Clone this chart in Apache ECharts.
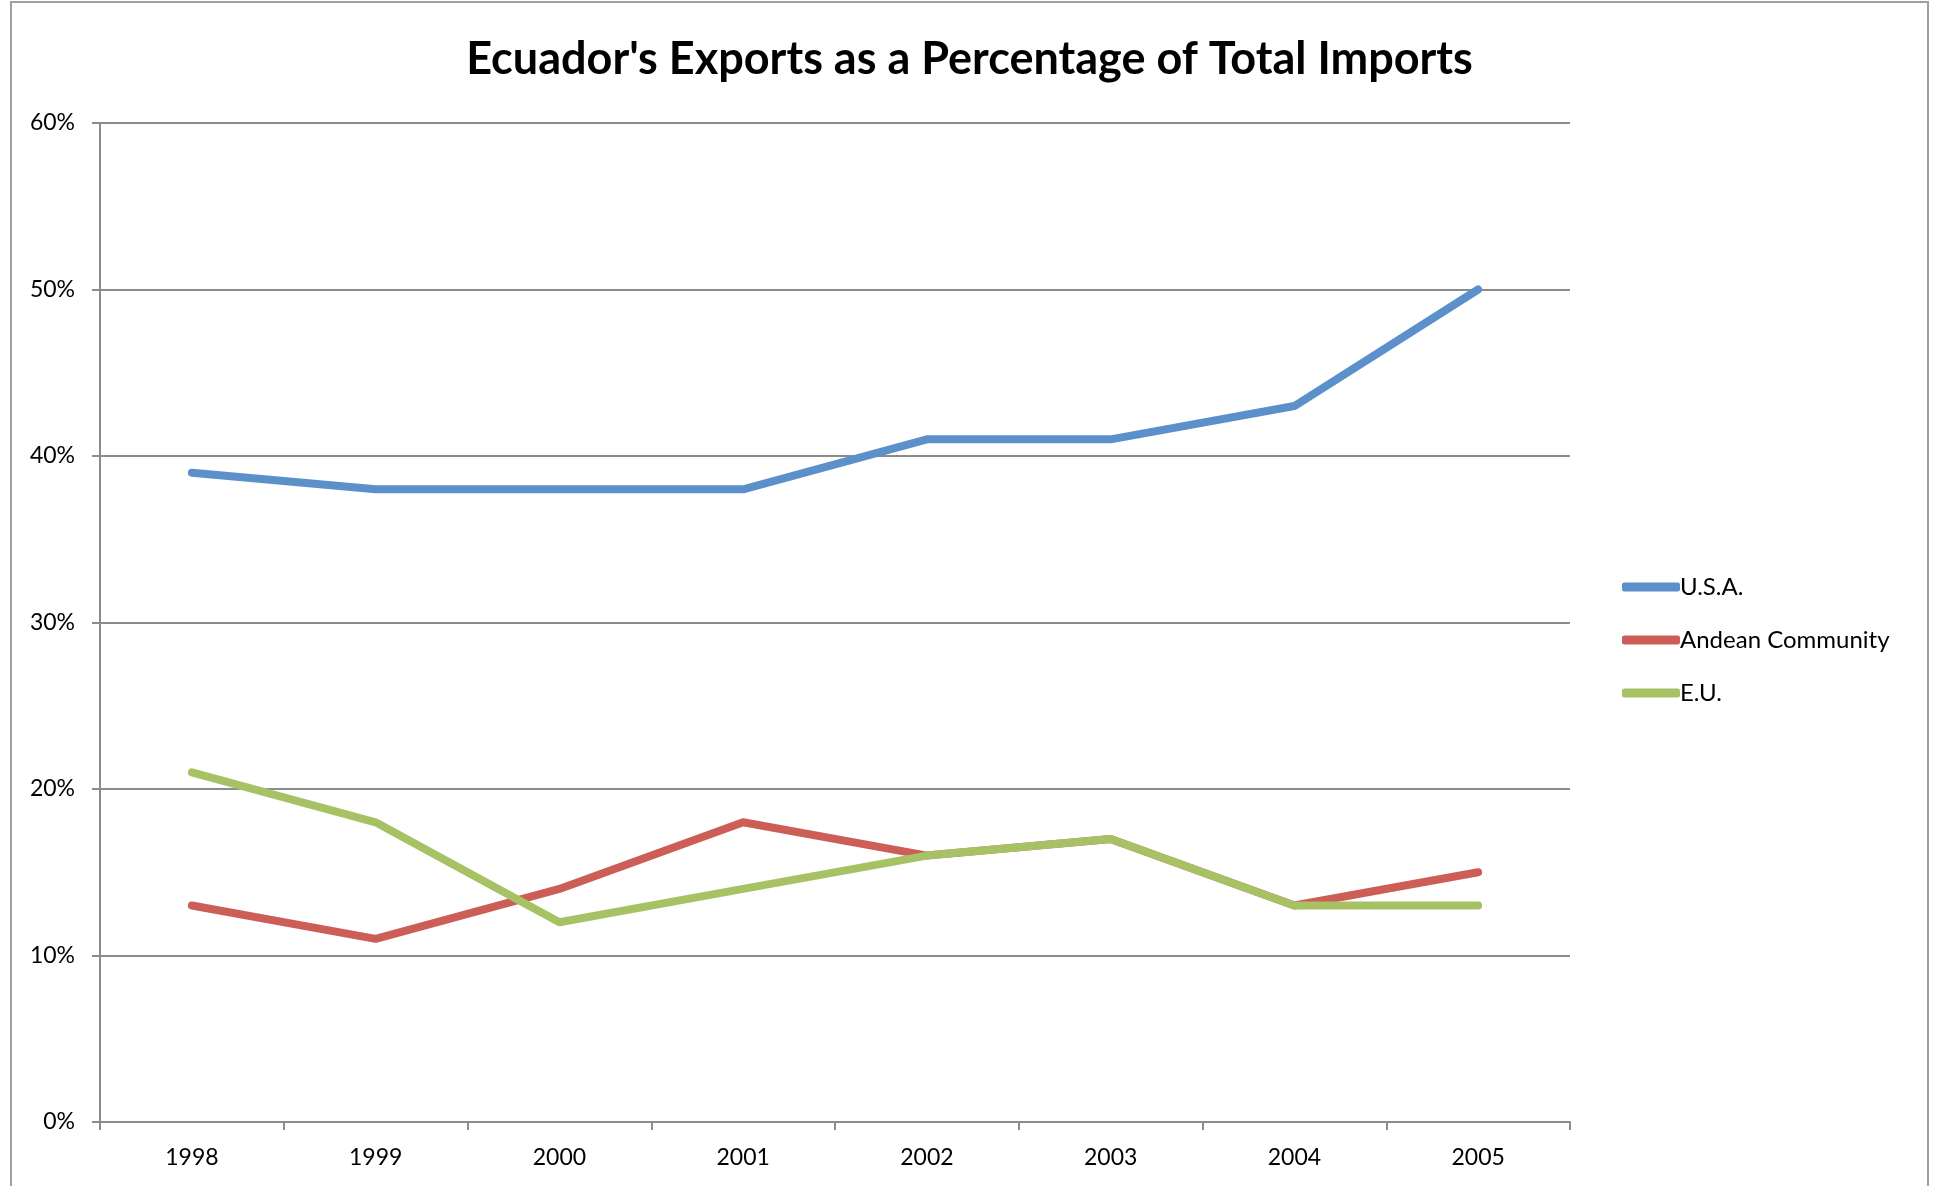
<!DOCTYPE html>
<html>
<head>
<meta charset="utf-8">
<script src="https://cdn.jsdelivr.net/npm/echarts@6/dist/echarts.min.js"></script>
<style>
  html, body { margin: 0; padding: 0; background: #fff; }
  #chart { width: 1939px; height: 1186px; }
</style>
</head>
<body>
<div id="chart"></div>
<script>
const years = ['1998', '1999', '2000', '2001', '2002', '2003', '2004', '2005']
const usa = [39, 38, 38, 38, 41, 41, 43, 50]
const andean = [13, 11, 14, 18, 16, 17, 13, 15]
const eu = [21, 18, 12, 14, 16, 17, 13, 13]
const seriesNames = ['U.S.A.', 'Andean Community', 'E.U.']
const COLORS = ['#5b90cb', '#cc5e57', '#a6c264']

const FONT = 'Lato'
const chart = echarts.init(document.getElementById('chart'))

function lineSeries(name, data, color) {
  return {
    name,
    type: 'line',
    data,
    symbol: 'none',
    lineStyle: { width: 8, color, cap: 'round', join: 'round' },
    itemStyle: { color }
  }
}

chart.setOption({
  animation: false,
  title: {
    text: "Ecuador's Exports as a Percentage of Total Imports",
    left: 'center',
    top: 32,
    textStyle: { fontFamily: FONT, fontWeight: 'bold', fontSize: 45, color: '#000' }
  },
  graphic: [{
    type: 'rect',
    shape: { x: 11, y: 2, width: 1917, height: 1220 },
    style: { fill: 'none', stroke: '#a0a0a0', lineWidth: 2 },
    silent: true
  }],
  legend: {
    orient: 'vertical',
    left: 1617,
    top: 570,
    itemWidth: 58,
    itemHeight: 9,
    itemGap: 29,
    icon: 'roundRect',
    textStyle: { fontFamily: FONT, fontSize: 24, lineHeight: 24, color: '#000', padding: [0, 0, 0, -5] },
    data: seriesNames
  },
  grid: { left: 100, right: 369, top: 123, bottom: 64 },
  xAxis: {
    type: 'category',
    data: years,
    boundaryGap: true,
    axisLine: { lineStyle: { color: '#8c8c8c', width: 2 } },
    axisTick: { show: true, length: 8, interval: 0, lineStyle: { color: '#8c8c8c', width: 2 } },
    axisLabel: { fontFamily: FONT, fontSize: 23, color: '#000', margin: 24 }
  },
  yAxis: {
    type: 'value',
    min: 0,
    max: 60,
    interval: 10,
    axisLine: { show: true, lineStyle: { color: '#8c8c8c', width: 2 } },
    axisTick: { show: true, length: 8, lineStyle: { color: '#8c8c8c', width: 2 } },
    splitLine: { lineStyle: { color: '#8c8c8c', width: 2 } },
    axisLabel: { fontFamily: FONT, fontSize: 23, color: '#000', margin: 25, formatter: '{value}%' }
  },
  series: [
    lineSeries(seriesNames[0], usa, COLORS[0]),
    lineSeries(seriesNames[1], andean, COLORS[1]),
    lineSeries(seriesNames[2], eu, COLORS[2])
  ]
})
</script>
</body>
</html>
